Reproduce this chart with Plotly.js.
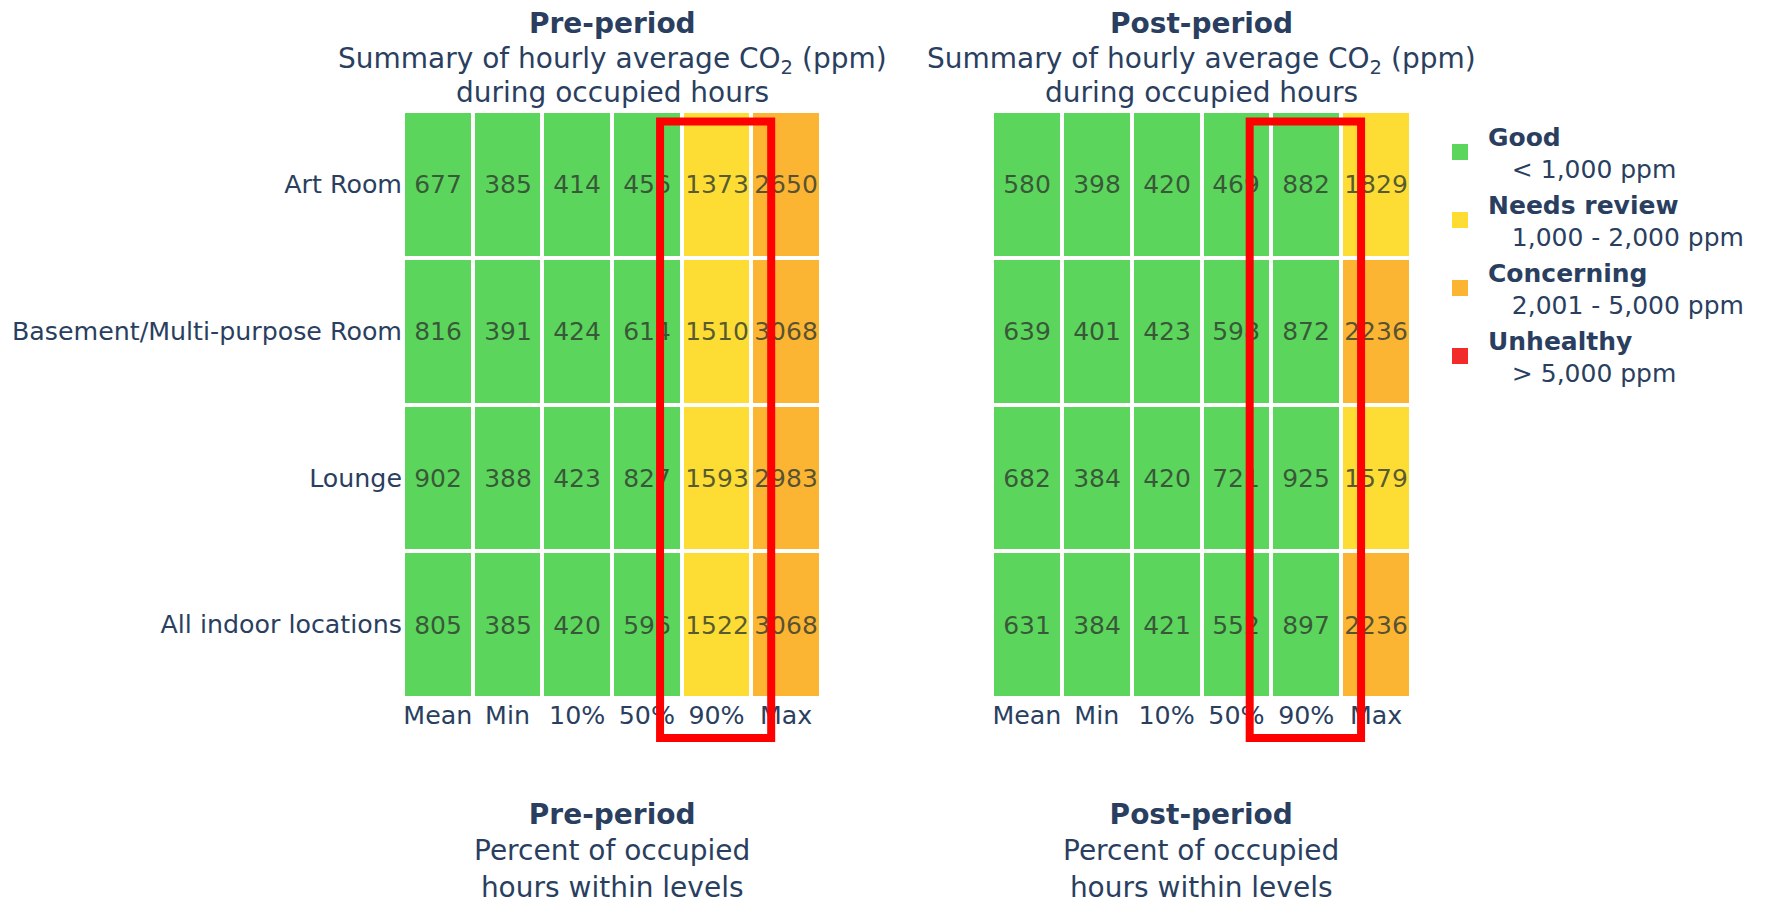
<!DOCTYPE html>
<html>
<head>
<meta charset="utf-8">
<script src="https://cdn.plot.ly/plotly-3.0.1.min.js"></script>
<style>html,body{margin:0;padding:0;background:#fff;}#chart{width:1765px;height:899px;}</style>
</head>
<body>
<div id="chart"></div>
<script>
// ---- data ----
const rooms = ['Art Room', 'Basement/Multi-purpose Room', 'Lounge', 'All indoor locations'];
const stats = ['Mean', 'Min', '10%', '50%', '90%', 'Max'];

const preArtRoom   = [677, 385, 414, 456, 1373, 2650];
const preBasement  = [816, 391, 424, 614, 1510, 3068];
const preLounge    = [902, 388, 423, 827, 1593, 2983];
const preAll       = [805, 385, 420, 596, 1522, 3068];

const postArtRoom  = [580, 398, 420, 469, 882, 1829];
const postBasement = [639, 401, 423, 598, 872, 2236];
const postLounge   = [682, 384, 420, 721, 925, 1579];
const postAll      = [631, 384, 421, 552, 897, 2236];

const levelNames  = ['Good', 'Needs review', 'Concerning', 'Unhealthy'];
const levelRanges = ['&lt; 1,000 ppm', '1,000 - 2,000 ppm', '2,001 - 5,000 ppm', '&gt; 5,000 ppm'];
const levelColors = ['#5bd55b', '#fddc34', '#fcb433', '#f22a2a'];
const levelBreaks = [1000, 2000, 5000];
const zMax = 6000;

const topTitleLines = ['Summary of hourly average CO<sub>2</sub> (ppm)', 'during occupied hours'];
const bottomTitleLines = ['Percent of occupied', 'hours within levels'];
const periods = ['Pre-period', 'Post-period'];

// ---- build ----
const FONT = 'DejaVu Sans';
const NAVY = '#2a3f5f';

function stepScale() {
  const cs = [];
  const edges = [0].concat(levelBreaks.map(b => b / zMax)).concat([1]);
  for (let i = 0; i < levelColors.length; i++) {
    cs.push([edges[i], levelColors[i]]);
    cs.push([edges[i + 1], levelColors[i]]);
  }
  return cs;
}

function heat(z, xa, ya) {
  return {
    type: 'heatmap', x: stats, y: rooms, z: z,
    xaxis: xa, yaxis: ya,
    colorscale: stepScale(), zmin: 0, zmax: zMax, showscale: false,
    xgap: 4, ygap: 4,
    texttemplate: '%{z}',
    textfont: {family: FONT, size: 25, color: 'rgba(50,60,50,0.82)'},
    hoverinfo: 'skip', showlegend: false
  };
}

const traces = [
  heat([preArtRoom, preBasement, preLounge, preAll], 'x', 'y'),
  heat([postArtRoom, postBasement, postLounge, postAll], 'x2', 'y2')
];

levelNames.forEach((n, i) => {
  traces.push({
    type: 'scatter', mode: 'markers', x: [null], y: [null],
    xaxis: 'x2', yaxis: 'y2',
    name: '<b>' + n + '</b><br>&nbsp;&nbsp;&nbsp;' + levelRanges[i],
    marker: {symbol: 'square', size: 16, color: levelColors[i]},
    showlegend: true, hoverinfo: 'skip'
  });
});

const W = 1765, H = 899;
const px = v => v / W;
const py = v => 1 - v / H;

const axCommon = {showgrid: false, zeroline: false, showline: false, ticks: '',
  tickfont: {family: FONT, size: 25.3, color: NAVY}};

const yDom = [py(698), py(111)];
const centers = [612, 1201];

const annotations = [];
function ann(x, y, text) {
  annotations.push({xref: 'paper', yref: 'paper', x: px(x), y: py(y), xanchor: 'center', yanchor: 'middle',
    showarrow: false, text: text, font: {family: FONT, size: 28, color: NAVY}});
}
periods.forEach((p, i) => {
  ann(centers[i], 23.5, '<b>' + p + '</b>');
  ann(centers[i], 60.5, topTitleLines[0]);
  ann(centers[i], 93, topTitleLines[1]);
  annotations.push({xref: 'paper', yref: 'paper', x: px(centers[i]), y: py(851), xanchor: 'center', yanchor: 'middle',
    showarrow: false, text: '<b>' + p + '</b><br>' + bottomTitleLines.join('<br>'),
    font: {family: FONT, size: 28, color: NAVY}});
});

const layout = {
  width: W, height: H,
  margin: {l: 0, r: 0, t: 0, b: 0, pad: 0},
  paper_bgcolor: '#ffffff', plot_bgcolor: '#ffffff',
  font: {family: FONT, color: NAVY},
  xaxis: Object.assign({}, axCommon, {domain: [px(403), px(821)], anchor: 'y', type: 'category'}),
  yaxis: Object.assign({}, axCommon, {domain: yDom, anchor: 'x', autorange: 'reversed', type: 'category'}),
  xaxis2: Object.assign({}, axCommon, {domain: [px(992), px(1411)], anchor: 'y2', type: 'category'}),
  yaxis2: Object.assign({}, axCommon, {domain: yDom, anchor: 'x2', autorange: 'reversed', type: 'category', showticklabels: false}),
  showlegend: true,
  legend: {
    x: px(1432), xanchor: 'left', y: py(113), yanchor: 'top',
    itemwidth: 46, bgcolor: 'rgba(0,0,0,0)',
    font: {family: FONT, size: 25, color: NAVY},
    tracegroupgap: 0
  },
  annotations: annotations,
  shapes: [
    {type: 'rect', xref: 'x', yref: 'paper', x0: 3.19, x1: 4.785, y0: py(738), y1: py(121.5),
     line: {color: '#ff0000', width: 8}, fillcolor: 'rgba(0,0,0,0)'},
    {type: 'rect', xref: 'x2', yref: 'paper', x0: 3.19, x1: 4.785, y0: py(738), y1: py(121.5),
     line: {color: '#ff0000', width: 8}, fillcolor: 'rgba(0,0,0,0)'}
  ]
};

Plotly.newPlot('chart', traces, layout, {displayModeBar: false, staticPlot: true});
</script>
</body>
</html>
